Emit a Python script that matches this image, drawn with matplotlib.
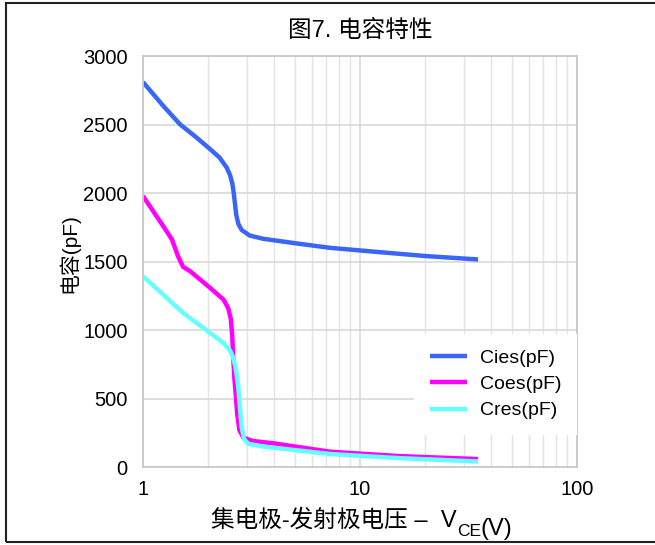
import matplotlib
matplotlib.use("Agg")
import matplotlib.pyplot as plt
from matplotlib.patches import Rectangle

plt.rcParams['font.family'] = ['Liberation Sans', 'Noto Sans CJK SC', 'DejaVu Sans']

# capacitance vs collector-emitter voltage
vce_cies = [1, 1.24, 1.48, 1.75, 2.04, 2.25, 2.43, 2.52, 2.58, 2.62, 2.65, 2.69, 2.75,
            2.85, 3.1, 3.58, 5.11, 7.27, 12.4, 20, 35]
cies = [2810, 2636, 2502, 2410, 2320, 2260, 2186, 2130, 2070, 2000, 1930, 1840, 1775,
        1730, 1690, 1666, 1632, 1600, 1568, 1540, 1515]

vce_coes = [1, 1.24, 1.36, 1.45, 1.53, 1.65, 2.04, 2.35, 2.47, 2.54, 2.58, 2.6, 2.64,
            2.68, 2.72, 2.78, 2.9, 3.2, 3.99, 7.27, 15, 35]
coes = [1978, 1758, 1661, 1539, 1461, 1429, 1307, 1222, 1160, 1080, 950, 820, 640,
        514, 380, 270, 215, 190, 173, 112, 80, 58]

vce_cres = [1, 1.24, 1.53, 2.04, 2.35, 2.52, 2.6, 2.66, 2.71, 2.75, 2.8, 2.85, 2.92,
            3.05, 3.58, 7.27, 15, 35]
cres = [1392, 1258, 1125, 978, 905, 850, 800, 740, 660, 580, 430, 295, 205,
        170, 149, 95, 65, 40]

yticks = [0, 500, 1000, 1500, 2000, 2500, 3000]

fig = plt.figure(figsize=(6.55, 5.45), dpi=100)
ax = fig.add_axes([0.2183, 0.1431, 0.6626, 0.7541])

kw = dict(lw=3.2, solid_joinstyle='round', solid_capstyle='butt')
ax.plot(vce_cies, cies, color='#3a66f7', label='Cies(pF)', **kw)
ax.plot(vce_coes, coes, color='#ff00ff', label='Coes(pF)', **kw)
ax.plot(vce_cres, cres, color='#66ffff', label='Cres(pF)', **kw)

ax.set_xscale('log')
ax.set_xlim(1, 100)
ax.set_ylim(0, 3000)
ax.set_yticks(yticks)
ax.set_xticks([1, 10, 100])
ax.set_xticklabels(['1', '10', '100'])

ax.grid(True, which='major', axis='both', color='#d9d9d9', lw=1.2)
ax.grid(True, which='minor', axis='x', color='#e3e3e3', lw=1.0)
ax.set_axisbelow(True)
ax.tick_params(which='both', length=0, labelsize=14.5, pad=11)
ax.tick_params(axis='x', pad=9)
for s in ax.spines.values():
    s.set_color('#c8c8c8')
    s.set_linewidth(1.3)

ax.set_title('图7. 电容特性', fontsize=17, pad=13)
ax.set_ylabel('电容(pF)', fontsize=15)
ax.yaxis.set_label_coords(-0.147, 0.52)

# x label built from pieces so the CJK text and the subscript share one line
t1 = ax.text(0.5 - 0.06, -0.146, '集电极-发射极电压 –  V', transform=ax.transAxes,
             fontsize=17, ha='center', va='baseline')
t2 = ax.annotate('CE', xy=(1, 0), xycoords=t1, xytext=(0, -3),
                 textcoords='offset points', fontsize=12.5, va='baseline')
t3 = ax.annotate('(V)', xy=(1, 0), xycoords=t2, xytext=(0, 3),
                 textcoords='offset points', fontsize=17, va='baseline')

leg = ax.legend(loc='lower right', bbox_to_anchor=(1.0, 0.078), fontsize=14,
                frameon=True, fancybox=False, handlelength=1.9, handletextpad=0.67,
                borderpad=0.8, labelspacing=0.44, borderaxespad=0)
leg.get_frame().set_edgecolor('none')
leg.get_frame().set_facecolor('white')
leg.get_frame().set_alpha(1)

fig.patches.append(Rectangle((6 / 655, 3 / 545), 660 / 655, 539 / 545,
                             transform=fig.transFigure, fill=False,
                             edgecolor='#222222', lw=1.5))

fig.savefig('out.png', dpi=100)
